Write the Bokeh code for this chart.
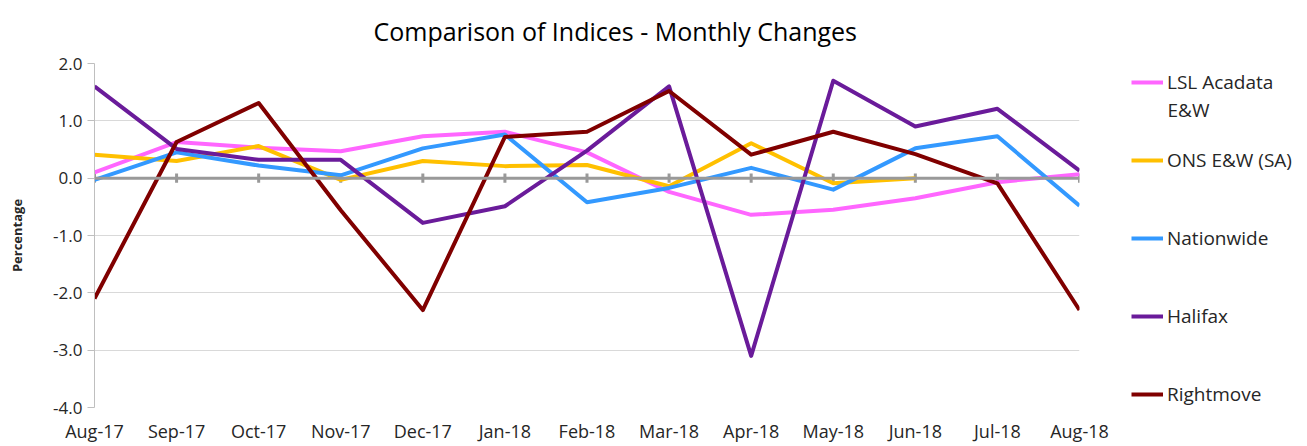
from bokeh.plotting import figure
from bokeh.models import (Legend, LegendItem, Range1d, FixedTicker, NumeralTickFormatter,
                          Span, Label)
from bokeh.layouts import row
from bokeh.embed import file_html
from bokeh.resources import INLINE

nan = float("nan")

months = ["Aug-17", "Sep-17", "Oct-17", "Nov-17", "Dec-17", "Jan-18", "Feb-18",
          "Mar-18", "Apr-18", "May-18", "Jun-18", "Jul-18", "Aug-18"]
lsl = [0.10, 0.63, 0.53, 0.47, 0.73, 0.81, 0.45, -0.24, -0.64, -0.55, -0.35, -0.07, 0.07]
ons = [0.41, 0.30, 0.56, -0.03, 0.30, 0.21, 0.23, -0.14, 0.61, -0.09, 0.0, nan, nan]
nationwide = [-0.03, 0.45, 0.22, 0.05, 0.52, 0.76, -0.42, -0.17, 0.18, -0.20, 0.52, 0.73, -0.48]
halifax = [1.60, 0.51, 0.32, 0.32, -0.78, -0.49, 0.48, 1.60, -3.10, 1.70, 0.90, 1.21, 0.13]
rightmove = [-2.10, 0.63, 1.31, -0.56, -2.30, 0.72, 0.81, 1.52, 0.41, 0.81, 0.42, -0.09, -2.30]

series_names = ["LSL Acadata", "ONS E&W (SA)", "Nationwide", "Halifax", "Rightmove"]
series_name_line2 = "E&W"
series_values = [lsl, ons, nationwide, halifax, rightmove]
series_colors = ["#ff66ff", "#ffc000", "#3399ff", "#6a1b9a", "#800000"]

y_ticks = [-4, -3, -2, -1, 0, 1, 2]

FONT = "Open Sans"
TXT = "#262626"

x = list(range(len(months)))

# ---------------- main chart ----------------
p = figure(frame_width=985, frame_height=344, output_backend="svg", toolbar_location=None,
           x_range=Range1d(0, len(months) - 1), y_range=Range1d(min(y_ticks), max(y_ticks)),
           min_border_left=94, min_border_right=36, min_border_top=63, min_border_bottom=39)
p.outline_line_color = None
p.background_fill_color = "white"
p.border_fill_color = "white"

p.title.text = "Comparison of Indices - Monthly Changes"
p.title.align = "left"
p.title.offset = 279
p.title.vertical_align = "top"
p.title.text_font = FONT
p.title.text_font_size = "25px"
p.title.text_font_style = "normal"
p.title.text_color = "#000000"
p.title.standoff = 27

# axes
p.xaxis.ticker = FixedTicker(ticks=x)
p.xaxis.major_label_overrides = {i: m for i, m in enumerate(months)}
p.xaxis.axis_line_color = None
p.xaxis.major_tick_line_color = None
p.xaxis.minor_tick_line_color = None
p.xaxis.major_label_text_font = FONT
p.xaxis.major_label_text_font_size = "18px"
p.xaxis.major_label_text_color = TXT
p.xaxis.major_label_standoff = 5

p.yaxis.ticker = FixedTicker(ticks=y_ticks)
p.yaxis.formatter = NumeralTickFormatter(format="0.0")
p.yaxis.axis_line_color = "#bfbfbf"
p.yaxis.axis_line_width = 1
p.yaxis.major_tick_line_color = "#bfbfbf"
p.yaxis.major_tick_out = 7
p.yaxis.major_tick_in = 0
p.yaxis.minor_tick_line_color = None
p.yaxis.major_label_text_font = FONT
p.yaxis.major_label_text_font_size = "17px"
p.yaxis.major_label_text_color = TXT
p.yaxis.major_label_standoff = 5
p.yaxis.axis_label = "Percentage"
p.yaxis.axis_label_text_font = FONT
p.yaxis.axis_label_text_font_size = "13px"
p.yaxis.axis_label_text_font_style = "bold"
p.yaxis.axis_label_text_color = TXT
p.yaxis.axis_label_standoff = 24

p.xgrid.grid_line_color = None
p.ygrid.grid_line_color = "#d9d9d9"
p.ygrid.grid_line_width = 1

# zero axis line with category ticks
p.add_layout(Span(location=0, dimension="width", line_color="#999999", line_width=3))
p.segment(x0=x, y0=[-0.08] * len(x), x1=x, y1=[0.08] * len(x), line_color="#999999", line_width=3)

for vals, col in zip(series_values, series_colors):
    p.line(x, vals, line_color=col, line_width=4, line_join="round")

# ---------------- legend panel ----------------
# its ranges lie away from the data, so only the legend is visible here
p2 = figure(width=192, height=446, output_backend="svg", toolbar_location=None,
            x_range=Range1d(100, 101), y_range=Range1d(100, 101),
            x_axis_location=None, y_axis_location=None, min_border=0)
p2.outline_line_color = None
p2.background_fill_color = "white"
p2.border_fill_color = "white"
p2.xgrid.visible = False
p2.ygrid.visible = False

items = []
for name, vals, col in zip(series_names, series_values, series_colors):
    r = p2.line(x, vals, line_color=col, line_width=4)
    items.append(LegendItem(label=name, renderers=[r]))

legend = Legend(items=items, location=(16, 0), orientation="vertical",
                glyph_width=32, glyph_height=24, label_height=24, label_standoff=4,
                spacing=52, padding=0, margin=0,
                border_line_color=None, background_fill_alpha=0,
                label_text_font=FONT, label_text_font_size="19px", label_text_color=TXT)
p2.add_layout(legend, "center")

p2.add_layout(Label(x=52, y=298, x_units="screen", y_units="screen",
                    text=series_name_line2, text_font=FONT, text_font_size="19px",
                    text_color=TXT, text_align="left", text_baseline="middle"))

layout = row(p, p2)
open("out.html", "w").write(file_html(layout, INLINE))
